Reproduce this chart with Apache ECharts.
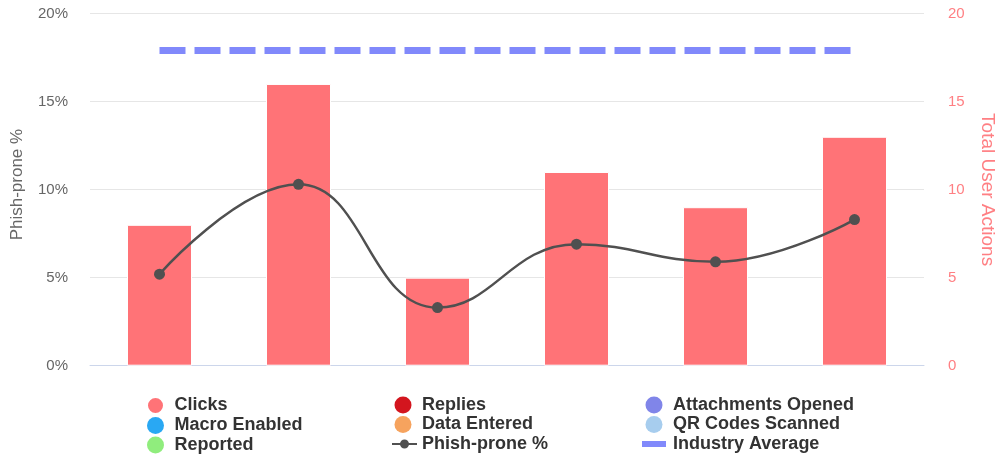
<!DOCTYPE html>
<html>
<head>
<meta charset="utf-8">
<script src="https://cdn.jsdelivr.net/npm/echarts@6/dist/echarts.min.js"></script>
<style>
html,body{margin:0;padding:0;background:#fff;overflow:hidden;}
#chart{width:997px;height:456px;}
</style>
</head>
<body>
<div id="chart"></div>
<script>
const categories = ['C1', 'C2', 'C3', 'C4', 'C5', 'C6'];
const clicks = [8, 16, 5, 11, 9, 13];
const phishPronePct = [5.2, 10.3, 3.3, 6.9, 5.9, 8.3];
const industryAverage = [17.9, 17.9, 17.9, 17.9, 17.9, 17.9];
const replies = [];
const attachmentsOpened = [];
const macroEnabled = [];
const dataEntered = [];
const qrCodesScanned = [];
const reported = [];
const leftTicks = { min: 0, max: 20, interval: 5 };
const rightTicks = { min: 0, max: 20, interval: 5 };

const FONT = '"Liberation Sans", Arial, sans-serif';
const colors = {
  clicks: '#ff7377', replies: '#d3151e', attachments: '#8085e9',
  macro: '#29a8f3', data: '#f6a35e', qr: '#a7cdee', reported: '#90ed7d',
  phish: '#505050', industry: '#8189fb'
};

function emptyBar(name, data, color) {
  return { name, type: 'bar', yAxisIndex: 1, stack: 'actions', data, itemStyle: { color }, barWidth: 65 };
}

const legendCommon = {
  orient: 'vertical', top: 391, height: 90, itemWidth: 28, itemHeight: 17, itemGap: 1.5,
  textStyle: { fontFamily: FONT, fontSize: 18, fontWeight: 'bold', color: '#333', lineHeight: 17 },
  selectedMode: false
};

const phishIcon = 'path://M0,0 L0,0 M28,17 L28,17 M3,7.5 L11.3,7.5 L11.3,9.5 L3,9.5 Z M19.7,7.5 L28,7.5 L28,9.5 L19.7,9.5 Z M11,8.5 A4.5,4.5 0 1 1 20,8.5 A4.5,4.5 0 1 1 11,8.5 Z';
const industryIcon = 'path://M0,0 L0,0 M2,5.5 L26,5.5 L26,11.5 L2,11.5 Z M28,17 L28,17';

const option = {
  animation: false,
  backgroundColor: '#fff',
  grid: { left: 90, right: 73, top: 13.5, bottom: 90.3, containLabel: false, outerBoundsMode: 'none' },
  legend: [
    Object.assign({}, legendCommon, { left: 141, data: [
      { name: 'Clicks', icon: 'circle' }, { name: 'Macro Enabled', icon: 'circle' }, { name: 'Reported', icon: 'circle' }
    ]}),
    Object.assign({}, legendCommon, { left: 384, data: [
      { name: 'Replies', icon: 'circle' }, { name: 'Data Entered', icon: 'circle' }, { name: 'Phish-prone %', icon: phishIcon }
    ]}),
    Object.assign({}, legendCommon, { left: 635, data: [
      { name: 'Attachments Opened', icon: 'circle' }, { name: 'QR Codes Scanned', icon: 'circle' },
      { name: 'Industry Average', icon: industryIcon }
    ]})
  ],
  xAxis: {
    type: 'category', data: categories,
    axisLine: { lineStyle: { color: '#ccd6eb', width: 1 } },
    axisTick: { show: false }, axisLabel: { show: false }
  },
  yAxis: [
    {
      type: 'value', min: leftTicks.min, max: leftTicks.max, interval: leftTicks.interval,
      name: 'Phish-prone %', nameLocation: 'middle', nameGap: 64, nameRotate: 90,
      nameTextStyle: { fontFamily: FONT, fontSize: 17, color: '#666', padding: [0, 0, 0, 10] },
      axisLabel: { formatter: '{value}%', fontFamily: FONT, fontSize: 15, color: '#666', margin: 22 },
      axisLine: { show: false }, axisTick: { show: false },
      splitLine: { lineStyle: { color: '#e6e6e6', width: 1 } }
    },
    {
      type: 'value', min: rightTicks.min, max: rightTicks.max, interval: rightTicks.interval,
      name: 'Total User Actions', nameLocation: 'middle', nameGap: 54, nameRotate: -90,
      nameTextStyle: { fontFamily: FONT, fontSize: 19, color: '#ff7f83' },
      axisLabel: { fontFamily: FONT, fontSize: 15, color: '#ff7f83', margin: 24 },
      axisLine: { show: false }, axisTick: { show: false },
      splitLine: { show: false }
    }
  ],
  series: [
    { name: 'Clicks', type: 'bar', yAxisIndex: 1, stack: 'actions', data: clicks, barWidth: 65,
      itemStyle: { color: colors.clicks, borderColor: '#fff', borderWidth: 1 } },
    emptyBar('Replies', replies, colors.replies),
    emptyBar('Attachments Opened', attachmentsOpened, colors.attachments),
    emptyBar('Macro Enabled', macroEnabled, colors.macro),
    emptyBar('Data Entered', dataEntered, colors.data),
    emptyBar('QR Codes Scanned', qrCodesScanned, colors.qr),
    emptyBar('Reported', reported, colors.reported),
    { name: 'Phish-prone %', type: 'line', yAxisIndex: 0, data: phishPronePct, smooth: 0.45,
      symbol: 'circle', symbolSize: 11, z: 5,
      lineStyle: { color: colors.phish, width: 2.5 }, itemStyle: { color: colors.phish } },
    { name: 'Industry Average', type: 'line', yAxisIndex: 0, data: industryAverage,
      symbol: 'none', z: 4,
      lineStyle: { color: colors.industry, width: 7, type: [26, 9], cap: 'butt' },
      itemStyle: { color: colors.industry } }
  ]
};

const chart = echarts.init(document.getElementById('chart'), null, { renderer: 'canvas' });
chart.setOption(option);
</script>
</body>
</html>
